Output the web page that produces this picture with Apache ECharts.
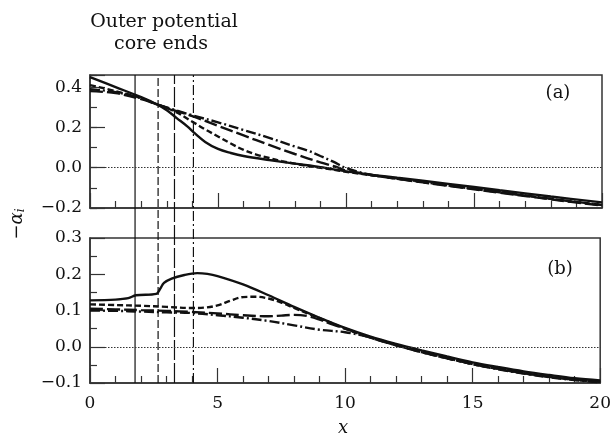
<!DOCTYPE html>
<html>
<head>
<meta charset="utf-8">
<script src="https://cdn.jsdelivr.net/npm/echarts@6/dist/echarts.min.js"></script>
<style>
  html, body { margin: 0; padding: 0; background: #fff; }
  #chart { width: 614px; height: 441px; }
</style>
</head>
<body>
<div id="chart"></div>
<script>
// positions where the outer potential cores end (solid, dashed, long dash, dash-dot)
const coreEnds = [1.76, 2.66, 3.3, 4.04];

// panel (a)
const aSolidX = [0, 1, 2, 2.6, 3, 3.4, 3.8, 4.1, 4.5, 5, 5.5, 6, 7, 8, 9, 10, 12, 14, 16, 18, 20];
const aSolidY = [0.45, 0.40, 0.35, 0.315, 0.285, 0.245, 0.205, 0.17, 0.128, 0.093, 0.073, 0.058, 0.038, 0.02, 0.003, -0.018, -0.05, -0.08, -0.112, -0.143, -0.172];
const aDashX = [0, 1, 2, 2.6, 3.3, 4, 4.5, 5, 5.5, 6, 6.5, 7, 7.5, 8, 8.5, 9, 10, 12, 14, 16, 18, 20];
const aDashY = [0.41, 0.38, 0.345, 0.315, 0.28, 0.228, 0.19, 0.155, 0.12, 0.088, 0.065, 0.048, 0.032, 0.02, 0.008, 0.0, -0.02, -0.055, -0.088, -0.122, -0.155, -0.185];
const aLongX = [0, 1, 2, 2.6, 3.3, 4, 5, 6, 7, 8, 9, 9.7, 10, 12, 14, 16, 18, 20];
const aLongY = [0.38, 0.37, 0.34, 0.315, 0.285, 0.256, 0.208, 0.16, 0.113, 0.068, 0.026, 0.0, -0.015, -0.055, -0.09, -0.124, -0.157, -0.188];
const aDotX = [0, 1, 2, 2.6, 3.3, 4, 5, 6, 7, 8, 8.5, 9, 9.5, 10, 11, 12, 14, 16, 18, 20];
const aDotY = [0.39, 0.375, 0.345, 0.315, 0.287, 0.26, 0.225, 0.187, 0.148, 0.105, 0.085, 0.058, 0.03, -0.002, -0.036, -0.053, -0.088, -0.12, -0.154, -0.185];

// panel (b)
const bSolidX = [0, 1, 1.5, 1.8, 2.6, 2.75, 2.9, 3.2, 3.7, 4.2, 4.6, 5, 6, 7, 8, 9, 10, 11, 12, 13, 14, 15, 16, 17, 18, 19, 20];
const bSolidY = [0.128, 0.13, 0.134, 0.142, 0.146, 0.16, 0.176, 0.188, 0.198, 0.203, 0.201, 0.195, 0.172, 0.142, 0.11, 0.08, 0.052, 0.028, 0.008, -0.01, -0.027, -0.043, -0.056, -0.068, -0.078, -0.087, -0.093];
const bDashX = [0, 1, 2, 3, 4, 4.5, 5, 5.5, 6, 6.5, 7, 7.5, 8, 9, 10, 11, 12, 13, 14, 15, 16, 17, 18, 19, 20];
const bDashY = [0.117, 0.115, 0.113, 0.11, 0.107, 0.108, 0.114, 0.127, 0.137, 0.138, 0.133, 0.122, 0.107, 0.079, 0.05, 0.025, 0.004, -0.015, -0.032, -0.048, -0.061, -0.073, -0.083, -0.091, -0.097];
const bLongX = [0, 1, 2, 3, 4, 5, 6, 7, 7.5, 8, 8.5, 9, 9.5, 10, 11, 12, 13, 14, 15, 16, 17, 18, 19, 20];
const bLongY = [0.105, 0.103, 0.101, 0.099, 0.096, 0.092, 0.087, 0.084, 0.086, 0.088, 0.085, 0.075, 0.062, 0.05, 0.025, 0.004, -0.015, -0.032, -0.048, -0.061, -0.073, -0.083, -0.091, -0.097];
const bDotX = [0, 1, 2, 3, 4, 5, 6, 7, 8, 9, 10, 11, 12, 13, 14, 15, 16, 17, 18, 19, 20];
const bDotY = [0.1, 0.099, 0.097, 0.095, 0.093, 0.087, 0.08, 0.071, 0.059, 0.047, 0.04, 0.026, 0.005, -0.014, -0.031, -0.048, -0.062, -0.074, -0.084, -0.092, -0.098];

const xTicks = [0, 5, 10, 15, 20];

const FONT = 'DejaVu Serif';
const INK = '#111';
const FRAME = '#333';

const zip = (xs, ys) => xs.map((x, i) => [x, ys[i]]);
const minus = v => String(v).replace('-', '\u2212');

const dashes = {
  solid: 'solid',
  dash: [6, 3],
  long: [13, 4],
  dot: [10, 3, 2, 3]
};

function curve(name, xs, ys, kind, panel) {
  return {
    name: name,
    type: 'line',
    xAxisIndex: panel,
    yAxisIndex: panel === 0 ? 0 : 2,
    data: zip(xs, ys),
    smooth: 0.35,
    showSymbol: false,
    lineStyle: { color: INK, width: 2.4, type: dashes[kind] },
    z: 3
  };
}

function zeroLine(panel) {
  return {
    type: 'line',
    xAxisIndex: panel,
    yAxisIndex: panel === 0 ? 0 : 2,
    data: [],
    markLine: {
      silent: true,
      symbol: 'none',
      label: { show: false },
      lineStyle: { color: FRAME, width: 1, type: [1.5, 1.5] },
      data: [{ yAxis: 0 }]
    }
  };
}

const vlineKinds = [
  { type: 'solid' },
  { type: [8, 3] },
  { type: [20, 3] },
  { type: [10, 3, 2, 3] }
];

const vlines = coreEnds.map((x, i) => ({
  type: 'line',
  xAxisIndex: 2,
  yAxisIndex: 3,
  data: [[x, 0], [x, 1]],
  showSymbol: false,
  lineStyle: { color: INK, width: 1.2, type: vlineKinds[i].type },
  z: 2
}));

const xBase = (gridIndex, labels) => ({
  type: 'value',
  gridIndex: gridIndex,
  position: 'bottom',
  min: xTicks[0],
  max: xTicks[xTicks.length - 1],
  interval: 5,
  axisLine: { show: true, onZero: false, lineStyle: { color: FRAME, width: 1.5 } },
  axisTick: { show: true, inside: true, length: 15, lineStyle: { color: FRAME, width: 1.2 } },
  minorTick: { show: true, splitNumber: 5, length: 7, lineStyle: { color: FRAME, width: 1.2 } },
  splitLine: { show: false },
  axisLabel: { show: labels, fontFamily: FONT, fontSize: 17, color: INK, margin: 12 }
});

const chart = echarts.init(document.getElementById('chart'), null, { renderer: 'canvas' });

chart.setOption({
  animation: false,
  backgroundColor: '#fff',
  grid: [
    { left: 90, top: 75, width: 512, height: 133, show: true, borderColor: FRAME, borderWidth: 1.5, backgroundColor: 'transparent' },
    { left: 90, top: 238, width: 512, height: 145, show: true, borderColor: FRAME, borderWidth: 1.5, backgroundColor: 'transparent' },
    { left: 90, top: 75, width: 512, height: 308, show: false }
  ],
  xAxis: [
    xBase(0, false),
    xBase(1, true),
    { type: 'value', gridIndex: 2, min: 0, max: 20, show: false }
  ],
  yAxis: [
    {
      type: 'value',
      gridIndex: 0,
      position: 'left',
      min: -0.2,
      max: 0.46,
      interval: 0.2,
      axisLine: { show: true, onZero: false, lineStyle: { color: FRAME, width: 1.5 } },
      axisTick: { show: true, inside: true, length: 15, lineStyle: { color: FRAME, width: 1.2 } },
      splitLine: { show: false },
      axisLabel: {
        fontFamily: FONT, fontSize: 17, color: INK, margin: 8,
        formatter: v => (Math.abs(v * 5 - Math.round(v * 5)) < 1e-6 ? minus(v.toFixed(1)) : '')
      }
    },
    {
      type: 'value',
      gridIndex: 0,
      position: 'left',
      min: -0.2,
      max: 0.46,
      interval: 0.1,
      axisLine: { show: false, onZero: false },
      axisTick: { show: true, inside: true, length: 7, lineStyle: { color: FRAME, width: 1.2 } },
      splitLine: { show: false },
      axisLabel: { show: false }
    },
    {
      type: 'value',
      gridIndex: 1,
      position: 'left',
      min: -0.1,
      max: 0.3,
      interval: 0.1,
      axisLine: { show: true, onZero: false, lineStyle: { color: FRAME, width: 1.5 } },
      axisTick: { show: true, inside: true, length: 15, lineStyle: { color: FRAME, width: 1.2 } },
      minorTick: { show: true, splitNumber: 2, length: 7, lineStyle: { color: FRAME, width: 1.2 } },
      splitLine: { show: false },
      axisLabel: {
        fontFamily: FONT, fontSize: 17, color: INK, margin: 8,
        formatter: v => minus(v.toFixed(1))
      }
    },
    { type: 'value', gridIndex: 2, min: 0, max: 1, show: false }
  ],
  graphic: [
    {
      type: 'text', x: 164, y: 22,
      style: { text: 'Outer potential', font: '19px "DejaVu Serif"', fill: INK, align: 'center', verticalAlign: 'middle' }
    },
    {
      type: 'text', x: 161, y: 44,
      style: { text: 'core ends', font: '19px "DejaVu Serif"', fill: INK, align: 'center', verticalAlign: 'middle' }
    },
    {
      type: 'text', x: 558, y: 93,
      style: { text: '(a)', font: '18px "DejaVu Serif"', fill: INK, align: 'center', verticalAlign: 'middle' }
    },
    {
      type: 'text', x: 560, y: 269,
      style: { text: '(b)', font: '18px "DejaVu Serif"', fill: INK, align: 'center', verticalAlign: 'middle' }
    },
    {
      type: 'text', x: 343, y: 428,
      style: { text: 'x', font: 'italic 18px "DejaVu Serif"', fill: INK, align: 'center', verticalAlign: 'middle' }
    },
    {
      type: 'text', x: 17, y: 224, rotation: Math.PI / 2,
      style: {
        text: '\u2212{a|\u03b1}{s|i}',
        font: '18px "DejaVu Serif"', fill: INK, align: 'center', verticalAlign: 'middle',
        rich: {
          a: { font: 'italic 18px "DejaVu Serif"', fill: INK },
          s: { font: 'italic 12px "DejaVu Serif"', fill: INK, padding: [8, 0, 0, 0] }
        }
      }
    }
  ],
  series: [
    zeroLine(0),
    zeroLine(1),
    ...vlines,
    curve('a solid', aSolidX, aSolidY, 'solid', 0),
    curve('a dash', aDashX, aDashY, 'dash', 0),
    curve('a long dash', aLongX, aLongY, 'long', 0),
    curve('a dash-dot', aDotX, aDotY, 'dot', 0),
    curve('b solid', bSolidX, bSolidY, 'solid', 1),
    curve('b dash', bDashX, bDashY, 'dash', 1),
    curve('b long dash', bLongX, bLongY, 'long', 1),
    curve('b dash-dot', bDotX, bDotY, 'dot', 1)
  ]
});
</script>
</body>
</html>
